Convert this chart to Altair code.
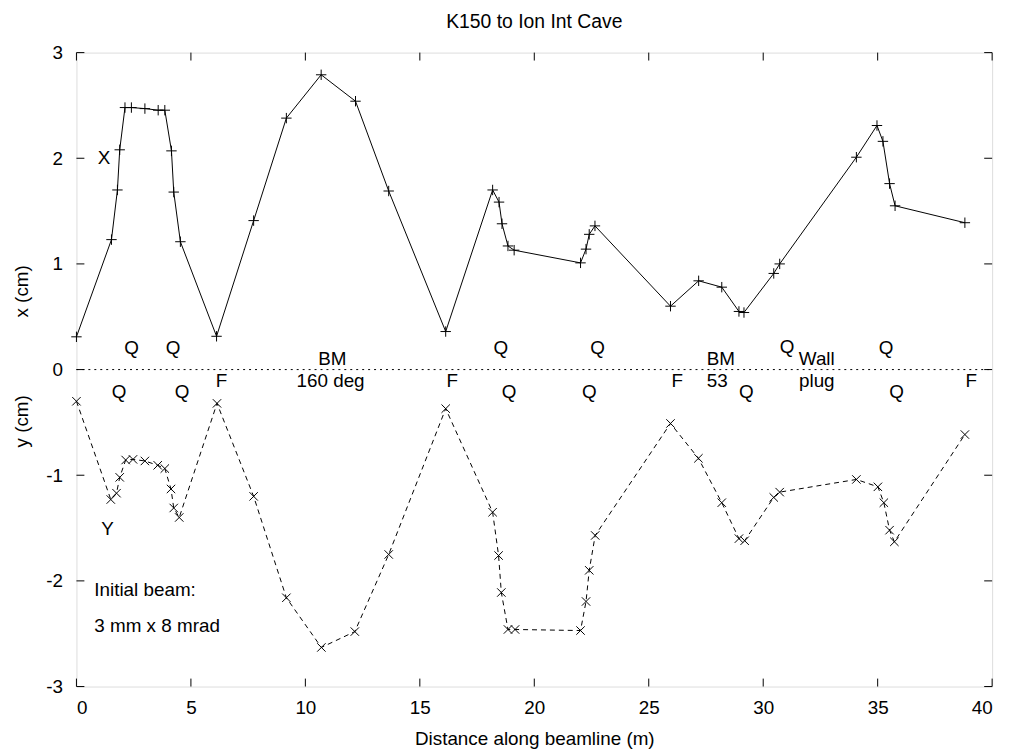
import altair as alt
import pandas as pd

# ---- X (horizontal) envelope ----
x_pos = [0.0, 1.53, 1.79, 1.89, 2.12, 2.40, 2.99, 3.57, 3.86, 4.15, 4.25, 4.54, 6.12, 7.74,
         9.17, 10.69, 12.19, 13.64, 16.13, 18.18, 18.46, 18.59, 18.85, 19.12, 22.02, 22.26,
         22.40, 22.65, 25.95, 27.18, 28.19, 28.94, 29.16, 30.46, 30.72, 34.07, 34.97, 35.23,
         35.52, 35.76, 38.81]
x_val = [0.31, 1.23, 1.70, 2.08, 2.48, 2.48, 2.47, 2.455, 2.455, 2.07, 1.68, 1.21, 0.315, 1.41,
         2.38, 2.79, 2.54, 1.69, 0.36, 1.70, 1.585, 1.38, 1.17, 1.13, 1.01, 1.14,
         1.28, 1.36, 0.60, 0.84, 0.78, 0.55, 0.54, 0.91, 1.00, 2.01, 2.31, 2.16,
         1.76, 1.55, 1.39]

# ---- Y (vertical) envelope ----
y_pos = [0.0, 1.50, 1.75, 1.89, 2.15, 2.47, 2.99, 3.55, 3.86, 4.13, 4.25, 4.49, 6.14, 7.74,
         9.17, 10.70, 12.16, 13.64, 16.13, 18.18, 18.44, 18.56, 18.85, 19.16, 22.02, 22.26,
         22.40, 22.66, 25.95, 27.17, 28.19, 28.94, 29.19, 30.46, 30.72, 34.07, 35.01, 35.27,
         35.52, 35.73, 38.81]
y_val = [-0.30, -1.23, -1.17, -1.02, -0.856, -0.85, -0.865, -0.906, -0.937, -1.13, -1.31, -1.40,
         -0.32, -1.20, -2.16, -2.63, -2.48, -1.75, -0.37, -1.35, -1.76, -2.11, -2.46, -2.46,
         -2.47, -2.195, -1.90, -1.57, -0.51, -0.84, -1.26, -1.60, -1.62, -1.21, -1.16, -1.04,
         -1.11, -1.26, -1.52, -1.63, -0.615]

# ---- element labels along the beamline ----
ann_text = ["Q", "Q", "BM", "Q", "Q", "BM", "Q", "Wall", "Q",
            "Q", "Q", "F", "160 deg", "F", "Q", "Q", "F", "53", "Q", "plug", "Q", "F",
            "X", "Y"]
ann_x = [2.41, 4.22, 11.18, 18.54, 22.76, 28.15, 31.04, 32.34, 35.37,
         1.86, 4.61, 6.34, 11.10, 16.42, 18.90, 22.40, 26.24, 27.99, 29.26, 32.34, 35.83, 39.09,
         1.21, 1.36]
ann_y = [0.20, 0.20, 0.10, 0.20, 0.20, 0.10, 0.21, 0.10, 0.20,
         -0.21, -0.21, -0.105, -0.11, -0.105, -0.21, -0.21, -0.105, -0.105, -0.21, -0.105, -0.21, -0.105,
         2.00, -1.51]

note_text = ["Initial beam:", "3 mm x 8 mrad"]
note_x = [0.78, 0.78]
note_y = [-2.09, -2.43]

ylab_text = ["x (cm)", "y (cm)"]
ylab_y = [0.74, -0.49]

title_text = ["K150 to Ion Int Cave"]

zero_x = [0, 40]
zero_y = [0, 0]

x_ticks = [0, 5, 10, 15, 20, 25, 30, 35, 40]
y_ticks = [-3, -2, -1, 0, 1, 2, 3]

W, H = 923, 639
FONT = "Liberation Sans"
FS = 19

xs = alt.Scale(domain=[0, 40], nice=False, zero=False)
ys = alt.Scale(domain=[-3, 3], nice=False, zero=False)

dfx = pd.DataFrame({"s": x_pos, "v": x_val})
dfy = pd.DataFrame({"s": y_pos, "v": y_val})
dfa = pd.DataFrame({"s": ann_x, "v": ann_y, "t": ann_text})
dfn = pd.DataFrame({"s": note_x, "v": note_y, "t": note_text})
dfl = pd.DataFrame({"v": ylab_y, "t": ylab_text})
dft = pd.DataFrame({"t": title_text})
dfz = pd.DataFrame({"s": zero_x, "v": zero_y})
dfxt = pd.DataFrame({"t": x_ticks})
dfyt = pd.DataFrame({"t": y_ticks})

X = alt.X("s:Q", scale=xs, title="Distance along beamline (m)",
          axis=alt.Axis(values=x_ticks, labelExpr="'' + datum.value", grid=False, domain=False,
                        ticks=False, tickSize=0, labelPadding=12, labelFontSize=FS,
                        labelFont=FONT, labelColor="black", titleFontSize=FS, titleFont=FONT,
                        titleFontWeight="normal", titleColor="black", titlePadding=12))
Y = alt.Y("v:Q", scale=ys, title=None,
          axis=alt.Axis(values=y_ticks, labelExpr="'' + datum.value", grid=False, domain=False,
                        ticks=False, tickSize=0, labelPadding=14, labelFontSize=FS,
                        labelFont=FONT, labelColor="black"))

plus_path = "M-1,0L1,0M0,-1L0,1"
cross_path = "M-1,-1L1,1M-1,1L1,-1"

zero_line = alt.Chart(dfz).mark_line(color="black", strokeWidth=1, strokeDash=[2, 4]).encode(
    x=alt.X("s:Q", scale=xs), y=alt.Y("v:Q", scale=ys))

line_x = alt.Chart(dfx).mark_line(color="black", strokeWidth=1).encode(x=X, y=Y)
pts_x = alt.Chart(dfx).mark_point(shape=plus_path, size=110, filled=False, color="black",
                                  strokeWidth=1, opacity=1).encode(
    x=alt.X("s:Q", scale=xs), y=alt.Y("v:Q", scale=ys))

line_y = alt.Chart(dfy).mark_line(color="black", strokeWidth=1, strokeDash=[5, 4]).encode(
    x=alt.X("s:Q", scale=xs), y=alt.Y("v:Q", scale=ys))
pts_y = alt.Chart(dfy).mark_point(shape=cross_path, size=72, filled=False, color="black",
                                  strokeWidth=1, opacity=1).encode(
    x=alt.X("s:Q", scale=xs), y=alt.Y("v:Q", scale=ys))

ann = alt.Chart(dfa).mark_text(font=FONT, fontSize=FS, color="black", align="center",
                               baseline="middle").encode(
    x=alt.X("s:Q", scale=xs), y=alt.Y("v:Q", scale=ys), text="t:N")

notes = alt.Chart(dfn).mark_text(font=FONT, fontSize=FS, color="black", align="left",
                                 baseline="middle").encode(
    x=alt.X("s:Q", scale=xs), y=alt.Y("v:Q", scale=ys), text="t:N")

ylabs = alt.Chart(dfl).mark_text(font=FONT, fontSize=FS, color="black", align="center",
                                 baseline="middle", angle=270).encode(
    x=alt.value(-55), y=alt.Y("v:Q", scale=ys), text="t:N")

title = alt.Chart(dft).mark_text(font=FONT, fontSize=19.5, color="black", align="center",
                                 baseline="middle").encode(
    x=alt.value(W / 2), y=alt.value(-31), text="t:N")

TL = 8
tick_b = alt.Chart(dfxt).mark_rule(color="black", strokeWidth=1).encode(
    x=alt.X("t:Q", scale=xs), y=alt.value(H), y2=alt.value(H - TL))
tick_t = alt.Chart(dfxt).mark_rule(color="black", strokeWidth=1).encode(
    x=alt.X("t:Q", scale=xs), y=alt.value(0), y2=alt.value(TL))
tick_l = alt.Chart(dfyt).mark_rule(color="black", strokeWidth=1).encode(
    y=alt.Y("t:Q", scale=ys), x=alt.value(0), x2=alt.value(TL))
tick_r = alt.Chart(dfyt).mark_rule(color="black", strokeWidth=1).encode(
    y=alt.Y("t:Q", scale=ys), x=alt.value(W), x2=alt.value(W - TL))

chart = alt.layer(
    line_x, zero_line, pts_x, line_y, pts_y, ann, notes, ylabs, title,
    tick_b, tick_t, tick_l, tick_r
).properties(
    width=W, height=H,
    autosize=alt.AutoSizeParams(type="none"),
    padding={"left": 69, "top": 42, "right": 16, "bottom": 60},
).configure_view(
    stroke="black", strokeWidth=1.5
).configure(background="white")

chart.save("out.html", embed_options={"renderer": "svg", "actions": False})
